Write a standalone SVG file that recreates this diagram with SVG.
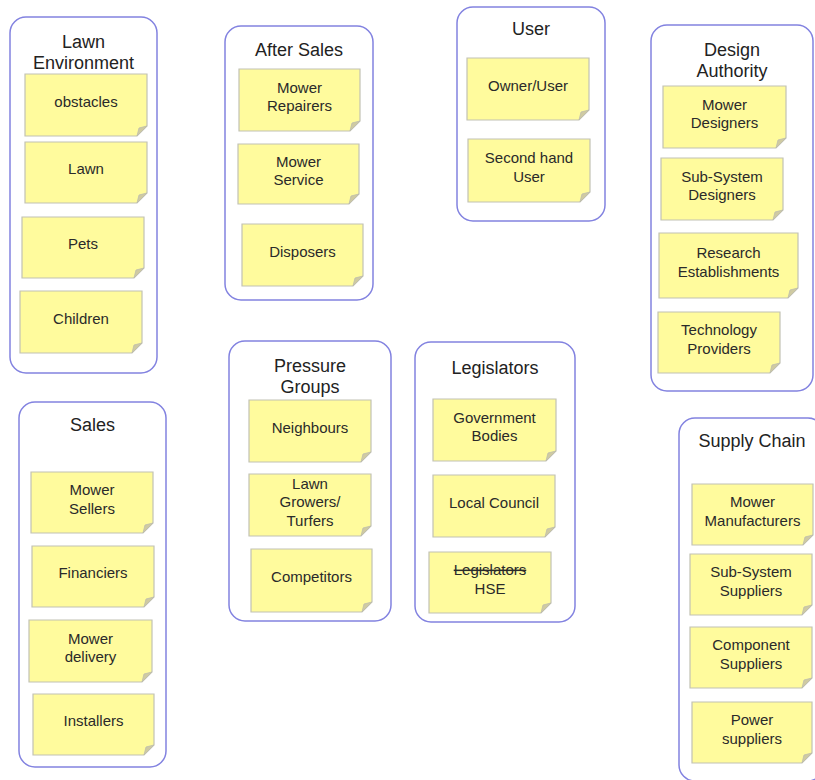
<svg xmlns="http://www.w3.org/2000/svg" width="815" height="780" viewBox="0 0 815 780">
  <style>
    .group { fill: #ffffff; stroke: #8282e0; stroke-width: 1.5; }
    .title { font-family: "Liberation Sans", Arial, sans-serif; font-size: 18px; fill: #222222; text-anchor: middle; }
    .note { fill: #fffb9d; stroke: #c2c2b4; stroke-width: 1.2; }
    .fold { fill: #cfcaa2; stroke: #bdbdae; stroke-width: 0.8; }
    .label { font-family: "Liberation Sans", Arial, sans-serif; font-size: 15px; fill: #2a2a2a; text-anchor: middle; }
    .struck { text-decoration: line-through; }
  </style>
  <rect width="815" height="780" fill="#ffffff"/>

  <!-- Lawn Environment -->
  <g id="lawn-environment">
    <rect class="group" x="10" y="17" width="147" height="356" rx="16"/>
    <text class="title" x="83.5" y="48">Lawn</text>
    <text class="title" x="83.5" y="69">Environment</text>
  </g>
  <g id="note-obstacles">
    <path class="note" d="M25,74 h122 v52 l-10,10 h-112 z"/><path class="fold" d="M137,136 l10,-10 l-8,2 z"/>
    <text class="label" x="86" y="106.5">obstacles</text>
  </g>
  <g id="note-lawn">
    <path class="note" d="M25,142 h122 v51 l-10,10 h-112 z"/><path class="fold" d="M137,203 l10,-10 l-8,2 z"/>
    <text class="label" x="86" y="174">Lawn</text>
  </g>
  <g id="note-pets">
    <path class="note" d="M22,217 h122 v51 l-10,10 h-112 z"/><path class="fold" d="M134,278 l10,-10 l-8,2 z"/>
    <text class="label" x="83" y="249">Pets</text>
  </g>
  <g id="note-children">
    <path class="note" d="M20,291 h122 v52 l-10,10 h-112 z"/><path class="fold" d="M132,353 l10,-10 l-8,2 z"/>
    <text class="label" x="81" y="323.5">Children</text>
  </g>

  <!-- After Sales -->
  <g id="after-sales">
    <rect class="group" x="225" y="26" width="148" height="274" rx="16"/>
    <text class="title" x="299" y="56">After Sales</text>
  </g>
  <g id="note-mower-repairers">
    <path class="note" d="M239,69 h121 v52 l-10,10 h-111 z"/><path class="fold" d="M350,131 l10,-10 l-8,2 z"/>
    <text class="label" x="299.5" y="92.5">Mower</text>
    <text class="label" x="299.5" y="111">Repairers</text>
  </g>
  <g id="note-mower-service">
    <path class="note" d="M238,144 h121 v50 l-10,10 h-111 z"/><path class="fold" d="M349,204 l10,-10 l-8,2 z"/>
    <text class="label" x="298.5" y="166.5">Mower</text>
    <text class="label" x="298.5" y="185">Service</text>
  </g>
  <g id="note-disposers">
    <path class="note" d="M242,224 h121 v52 l-10,10 h-111 z"/><path class="fold" d="M353,286 l10,-10 l-8,2 z"/>
    <text class="label" x="302.5" y="256.5">Disposers</text>
  </g>

  <!-- User -->
  <g id="user">
    <rect class="group" x="457" y="7" width="148" height="214" rx="16"/>
    <text class="title" x="531" y="35">User</text>
  </g>
  <g id="note-owner-user">
    <path class="note" d="M467,58 h122 v52 l-10,10 h-112 z"/><path class="fold" d="M579,120 l10,-10 l-8,2 z"/>
    <text class="label" x="528" y="90.5">Owner/User</text>
  </g>
  <g id="note-second-hand-user">
    <path class="note" d="M468,139 h122 v53 l-10,10 h-112 z"/><path class="fold" d="M580,202 l10,-10 l-8,2 z"/>
    <text class="label" x="529" y="163">Second hand</text>
    <text class="label" x="529" y="181.5">User</text>
  </g>

  <!-- Design Authority -->
  <g id="design-authority">
    <rect class="group" x="651" y="25" width="162" height="366" rx="16"/>
    <text class="title" x="732" y="56">Design</text>
    <text class="title" x="732" y="77">Authority</text>
  </g>
  <g id="note-mower-designers">
    <path class="note" d="M663,86 h123 v52 l-10,10 h-113 z"/><path class="fold" d="M776,148 l10,-10 l-8,2 z"/>
    <text class="label" x="724.5" y="109.5">Mower</text>
    <text class="label" x="724.5" y="128">Designers</text>
  </g>
  <g id="note-sub-system-designers">
    <path class="note" d="M661,158 h122 v52 l-10,10 h-112 z"/><path class="fold" d="M773,220 l10,-10 l-8,2 z"/>
    <text class="label" x="722" y="181.5">Sub-System</text>
    <text class="label" x="722" y="200">Designers</text>
  </g>
  <g id="note-research-establishments">
    <path class="note" d="M659,233 h139 v55 l-10,10 h-129 z"/><path class="fold" d="M788,298 l10,-10 l-8,2 z"/>
    <text class="label" x="728.5" y="258">Research</text>
    <text class="label" x="728.5" y="276.5">Establishments</text>
  </g>
  <g id="note-technology-providers">
    <path class="note" d="M658,312 h122 v51 l-10,10 h-112 z"/><path class="fold" d="M770,373 l10,-10 l-8,2 z"/>
    <text class="label" x="719" y="335">Technology</text>
    <text class="label" x="719" y="353.5">Providers</text>
  </g>

  <!-- Sales -->
  <g id="sales">
    <rect class="group" x="19" y="402" width="147" height="365" rx="16"/>
    <text class="title" x="92.5" y="431">Sales</text>
  </g>
  <g id="note-mower-sellers">
    <path class="note" d="M31,472 h122 v51 l-10,10 h-112 z"/><path class="fold" d="M143,533 l10,-10 l-8,2 z"/>
    <text class="label" x="92" y="495">Mower</text>
    <text class="label" x="92" y="513.5">Sellers</text>
  </g>
  <g id="note-financiers">
    <path class="note" d="M32,546 h122 v51 l-10,10 h-112 z"/><path class="fold" d="M144,607 l10,-10 l-8,2 z"/>
    <text class="label" x="93" y="578">Financiers</text>
  </g>
  <g id="note-mower-delivery">
    <path class="note" d="M29,620 h123 v52 l-10,10 h-113 z"/><path class="fold" d="M142,682 l10,-10 l-8,2 z"/>
    <text class="label" x="90.5" y="643.5">Mower</text>
    <text class="label" x="90.5" y="662">delivery</text>
  </g>
  <g id="note-installers">
    <path class="note" d="M33,694 h121 v51 l-10,10 h-111 z"/><path class="fold" d="M144,755 l10,-10 l-8,2 z"/>
    <text class="label" x="93.5" y="726">Installers</text>
  </g>

  <!-- Pressure Groups -->
  <g id="pressure-groups">
    <rect class="group" x="229" y="341" width="162" height="280" rx="16"/>
    <text class="title" x="310" y="372">Pressure</text>
    <text class="title" x="310" y="393">Groups</text>
  </g>
  <g id="note-neighbours">
    <path class="note" d="M249,400 h122 v52 l-10,10 h-112 z"/><path class="fold" d="M361,462 l10,-10 l-8,2 z"/>
    <text class="label" x="310" y="432.5">Neighbours</text>
  </g>
  <g id="note-lawn-growers">
    <path class="note" d="M249,474 h122 v52 l-10,10 h-112 z"/><path class="fold" d="M361,536 l10,-10 l-8,2 z"/>
    <text class="label" x="310" y="488.5">Lawn</text>
    <text class="label" x="310" y="507">Growers/</text>
    <text class="label" x="310" y="525.5">Turfers</text>
  </g>
  <g id="note-competitors">
    <path class="note" d="M251,549 h121 v53 l-10,10 h-111 z"/><path class="fold" d="M362,612 l10,-10 l-8,2 z"/>
    <text class="label" x="311.5" y="582">Competitors</text>
  </g>

  <!-- Legislators -->
  <g id="legislators">
    <rect class="group" x="415" y="342" width="160" height="280" rx="16"/>
    <text class="title" x="495" y="374">Legislators</text>
  </g>
  <g id="note-government-bodies">
    <path class="note" d="M433,399 h123 v52 l-10,10 h-113 z"/><path class="fold" d="M546,461 l10,-10 l-8,2 z"/>
    <text class="label" x="494.5" y="422.5">Government</text>
    <text class="label" x="494.5" y="441">Bodies</text>
  </g>
  <g id="note-local-council">
    <path class="note" d="M433,475 h122 v52 l-10,10 h-112 z"/><path class="fold" d="M545,537 l10,-10 l-8,2 z"/>
    <text class="label" x="494" y="507.5">Local Council</text>
  </g>
  <g id="note-hse">
    <path class="note" d="M429,552 h122 v51 l-10,10 h-112 z"/><path class="fold" d="M541,613 l10,-10 l-8,2 z"/>
    <text class="label struck" x="490" y="575">Legislators</text>
    <text class="label" x="490" y="593.5">HSE</text>
  </g>

  <!-- Supply Chain -->
  <g id="supply-chain">
    <rect class="group" x="679" y="418" width="145" height="363" rx="16"/>
    <text class="title" x="752" y="447">Supply Chain</text>
  </g>
  <g id="note-mower-manufacturers">
    <path class="note" d="M692,484 h121 v51 l-10,10 h-111 z"/><path class="fold" d="M803,545 l10,-10 l-8,2 z"/>
    <text class="label" x="752.5" y="507">Mower</text>
    <text class="label" x="752.5" y="525.5">Manufacturers</text>
  </g>
  <g id="note-sub-system-suppliers">
    <path class="note" d="M690,554 h122 v51 l-10,10 h-112 z"/><path class="fold" d="M802,615 l10,-10 l-8,2 z"/>
    <text class="label" x="751" y="577">Sub-System</text>
    <text class="label" x="751" y="595.5">Suppliers</text>
  </g>
  <g id="note-component-suppliers">
    <path class="note" d="M690,627 h122 v51 l-10,10 h-112 z"/><path class="fold" d="M802,688 l10,-10 l-8,2 z"/>
    <text class="label" x="751" y="650">Component</text>
    <text class="label" x="751" y="668.5">Suppliers</text>
  </g>
  <g id="note-power-suppliers">
    <path class="note" d="M692,702 h120 v51 l-10,10 h-110 z"/><path class="fold" d="M802,763 l10,-10 l-8,2 z"/>
    <text class="label" x="752" y="725">Power</text>
    <text class="label" x="752" y="743.5">suppliers</text>
  </g>

  <!-- no connectors between the groups -->
  <g id="connectors"/>
</svg>
